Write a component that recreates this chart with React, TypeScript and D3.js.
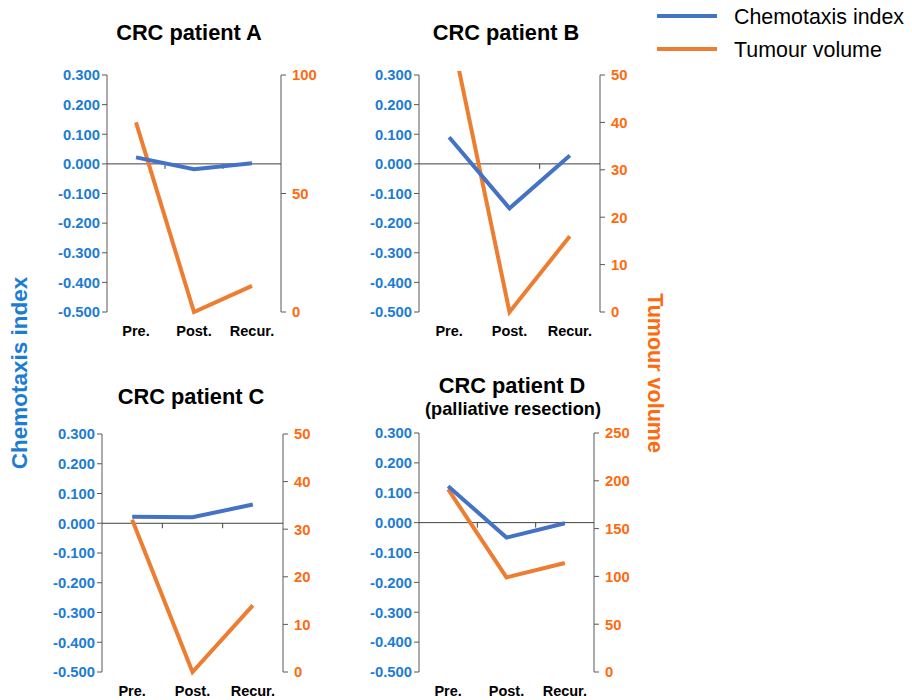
import React from "react";
import * as d3 from "d3";

// ---- data ----
const categories: string[] = ["Pre.", "Post.", "Recur."];

const chemotaxisA: number[] = [0.022, -0.018, 0.002];
const chemotaxisB: number[] = [0.09, -0.15, 0.028];
const chemotaxisC: number[] = [0.022, 0.02, 0.063];
const chemotaxisD: number[] = [0.122, -0.05, -0.002];

const tumourA: number[] = [80, 0, 11];
const tumourB: number[] = [61, 0, 16];
const tumourC: number[] = [32, 0, 14];
const tumourD: number[] = [191, 99, 114];

const chemoTicks: number[] = [0.3, 0.2, 0.1, 0, -0.1, -0.2, -0.3, -0.4, -0.5];
const tumourTicksA: number[] = [0, 50, 100];
const tumourTicksBC: number[] = [0, 10, 20, 30, 40, 50];
const tumourTicksD: number[] = [0, 50, 100, 150, 200, 250];

const legendLabels: string[] = ["Chemotaxis index", "Tumour volume"];

const ColorChemo: string = "#4472C4";
const ColorTumour: string = "#ED7D31";
const ColorChemoText: string = "#1C7CD5";
const ColorTumourText: string = "#FF6A0E";
const font = "'Liberation Sans', Arial, sans-serif";

interface IPanel {
  id: string;
  title: string;
  subtitle?: string;
  chemo: number[];
  tumour: number[];
  tumourTicks: number[];
  left: number;
  right: number;
  top: number;
  bottom: number;
  titleX: number;
  titleY: number;
}

const panels: IPanel[] = [
  {id: "a", title: "CRC patient A", chemo: chemotaxisA, tumour: tumourA, tumourTicks: tumourTicksA,
    left: 107, right: 281, top: 75, bottom: 312, titleX: 189, titleY: 40},
  {id: "b", title: "CRC patient B", chemo: chemotaxisB, tumour: tumourB, tumourTicks: tumourTicksBC,
    left: 419, right: 600, top: 75, bottom: 312, titleX: 506, titleY: 40},
  {id: "c", title: "CRC patient C", chemo: chemotaxisC, tumour: tumourC, tumourTicks: tumourTicksBC,
    left: 102, right: 283, top: 434, bottom: 672, titleX: 191, titleY: 404},
  {id: "d", title: "CRC patient D", subtitle: "(palliative resection)", chemo: chemotaxisD, tumour: tumourD,
    tumourTicks: tumourTicksD, left: 419, right: 594, top: 433, bottom: 672, titleX: 512, titleY: 393},
];

function Panel({p}: {p: IPanel}): React.ReactElement {
  const x = d3.scaleBand<string>().domain(categories).range([p.left, p.right]);
  const y = d3.scaleLinear().domain([-0.5, 0.3]).range([p.bottom, p.top]);
  const y2 = d3.scaleLinear()
    .domain([0, p.tumourTicks[p.tumourTicks.length - 1]])
    .range([p.bottom, p.top]);
  const cx = (c: string) => (x(c) as number) + x.bandwidth() / 2;

  const chemoLine = d3.line<number>().x((_, i) => cx(categories[i])).y((v) => y(v));
  const tumourLine = d3.line<number>().x((_, i) => cx(categories[i])).y((v) => y2(v));
  const zeroY = y(0);

  return (
    <g>
      <defs>
        <clipPath id={`clip-${p.id}`}>
          <rect x={p.left} y={p.top - 4} width={p.right - p.left} height={p.bottom - p.top + 8} />
        </clipPath>
      </defs>
      <text x={p.titleX} y={p.titleY} textAnchor="middle" fontSize={21.8} fontWeight="bold" fill="#000">{p.title}</text>
      {p.subtitle && (
        <text x={p.titleX + 1} y={p.titleY + 22} textAnchor="middle" fontSize={18.2} fontWeight="bold" fill="#000">{p.subtitle}</text>
      )}

      {/* left axis */}
      <line x1={p.left} x2={p.left} y1={p.top} y2={p.bottom} stroke="#595959" strokeWidth={1} />
      {chemoTicks.map((t) => (
        <g key={`l${t}`}>
          <line x1={p.left - 5} x2={p.left} y1={y(t)} y2={y(t)} stroke="#595959" />
          <text x={p.left - 7} y={y(t)} dy="0.36em" textAnchor="end" fontSize={14.8} fontWeight="bold"
                fill={ColorChemoText}>{d3.format(".3f")(t).replace("−", "-")}</text>
        </g>
      ))}

      {/* right axis */}
      <line x1={p.right} x2={p.right} y1={p.top} y2={p.bottom} stroke="#595959" strokeWidth={1} />
      {p.tumourTicks.map((t) => (
        <g key={`r${t}`}>
          <line x1={p.right} x2={p.right + 5} y1={y2(t)} y2={y2(t)} stroke="#595959" />
          <text x={p.right + 11} y={y2(t)} dy="0.36em" textAnchor="start" fontSize={14.8} fontWeight="bold"
                fill={ColorTumourText}>{t}</text>
        </g>
      ))}

      {/* category axis at zero */}
      <line x1={p.left} x2={p.right} y1={zeroY} y2={zeroY} stroke="#404040" strokeWidth={1} />
      {categories.slice(1).map((c) => (
        <line key={`t${c}`} x1={x(c) as number} x2={x(c) as number} y1={zeroY} y2={zeroY + 5} stroke="#404040" />
      ))}
      {categories.map((c) => (
        <text key={`c${c}`} x={cx(c)} y={p.bottom + 24} textAnchor="middle" fontSize={14.5} fontWeight="bold" fill="#000">{c}</text>
      ))}

      <g clipPath={`url(#clip-${p.id})`}>
        <path d={tumourLine(p.tumour) as string} fill="none" stroke={ColorTumour} strokeWidth={4} />
        <path d={chemoLine(p.chemo) as string} fill="none" stroke={ColorChemo} strokeWidth={4} />
      </g>
    </g>
  );
}

export default function App(): React.ReactElement {
  return (
    <svg width={912} height={700} style={{position: "absolute", left: 0, top: 0, background: "#fff"}}
         fontFamily={font}>
      <rect x={0} y={0} width={912} height={700} fill="#fff" />
      {panels.map((p) => <Panel key={p.id} p={p} />)}

      <text transform="translate(27,373) rotate(-90)" textAnchor="middle" fontSize={22.5} fontWeight="bold"
            fill={ColorChemoText}>{legendLabels[0]}</text>
      <text transform="translate(648,373) rotate(90)" textAnchor="middle" fontSize={21.5} fontWeight="bold"
            fill={ColorTumourText}>{legendLabels[1]}</text>

      {/* legend */}
      {legendLabels.map((l, i) => (
        <g key={l}>
          <line x1={657} x2={717} y1={16 + i * 33} y2={16 + i * 33} stroke={i === 0 ? ColorChemo : ColorTumour} strokeWidth={4} />
          <text x={734} y={16 + i * 33} dy="0.36em" fontSize={21.4} fill="#000">{l}</text>
        </g>
      ))}
    </svg>
  );
}
